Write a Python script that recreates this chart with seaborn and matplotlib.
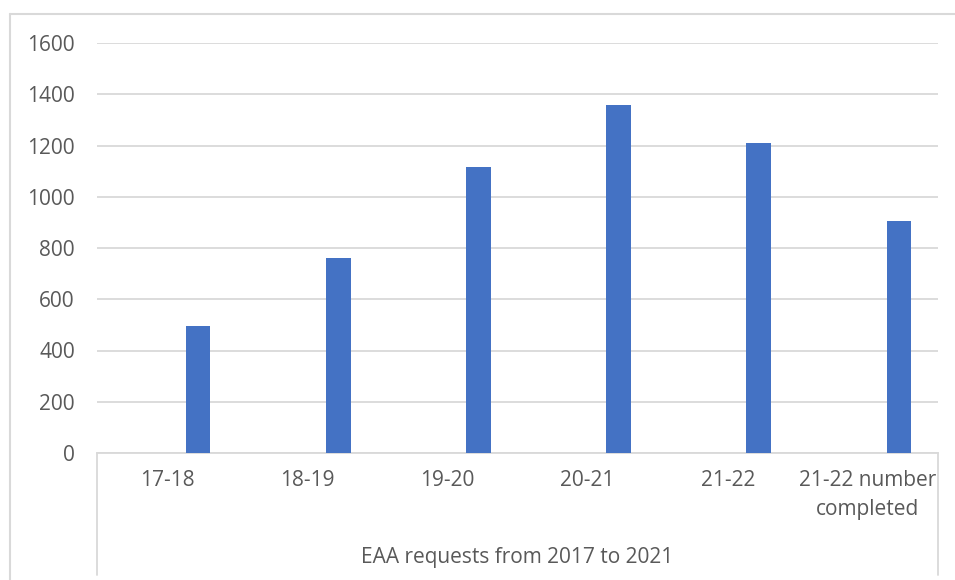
import pandas as pd
import numpy as np
import matplotlib.pyplot as plt
import seaborn as sns

sns.set_theme(style="whitegrid")
plt.rcParams["font.family"] = ["Open Sans", "DejaVu Sans"]

# data
categories = ["17-18", "18-19", "19-20", "20-21", "21-22", "21-22 number\ncompleted"]
requests = [495, 760, 1115, 1357, 1210, 907]
blank = [0, 0, 0, 0, 0, 0]   # empty first series (gives the Excel bar offset)
y_ticks = [0, 200, 400, 600, 800, 1000, 1200, 1400, 1600]
group_label = "EAA requests from 2017 to 2021"

df = pd.concat([
    pd.DataFrame({"Year": categories, "Requests": blank, "Series": "Blank"}),
    pd.DataFrame({"Year": categories, "Requests": requests, "Series": "Requests"}),
])

text_col = "#595959"
line_col = "#D9D9D9"
fs = 15

fig = plt.figure(figsize=(9.55, 5.8), dpi=100)
ax = fig.add_axes([97 / 955, 1 - 453 / 580, 841 / 955, 410 / 580])

sns.barplot(data=df, x="Year", y="Requests", hue="Series",
            hue_order=["Blank", "Requests"],
            palette={"Blank": "white", "Requests": "#4472C4"},
            saturation=1, width=0.884, gap=0.6, legend=False,
            linewidth=0, ax=ax, zorder=3)

ax.set_ylim(0, 1600)
ax.set_yticks(y_ticks)
ax.set_xlim(-0.5, len(categories) - 0.5)
ax.set_ylabel("")
ax.set_xlabel(group_label, fontsize=fs, color=text_col)
ax.xaxis.set_label_coords(0.5, -0.256)
ax.xaxis.label.set_va("center")

ax.grid(axis="y", color=line_col, linewidth=1.3, zorder=0)
ax.grid(axis="x", visible=False)
for s in ["left", "right", "top"]:
    ax.spines[s].set_visible(False)
ax.spines["bottom"].set_color(line_col)
ax.spines["bottom"].set_linewidth(1.3)

ax.tick_params(axis="y", length=0, pad=16, labelsize=fs, labelcolor=text_col)
ax.tick_params(axis="x", length=0, pad=12, labelsize=fs, labelcolor=text_col)
for lbl in ax.get_xticklabels():
    lbl.set_linespacing(1.5)

# box around the category group below the axis
box_bottom = -(575 - 453) / 410
for xb in [0, 1]:
    ax.plot([xb, xb], [0, box_bottom], transform=ax.transAxes,
            color=line_col, linewidth=1.3, clip_on=False)

# outer chart border (cropped at right and bottom)
fig.add_artist(plt.Line2D([10 / 955, 1], [1 - 14 / 580, 1 - 14 / 580],
                          color=line_col, linewidth=1.5))
fig.add_artist(plt.Line2D([10 / 955, 10 / 955], [0, 1 - 14 / 580],
                          color=line_col, linewidth=1.5))

fig.savefig("out.png", dpi=100)
